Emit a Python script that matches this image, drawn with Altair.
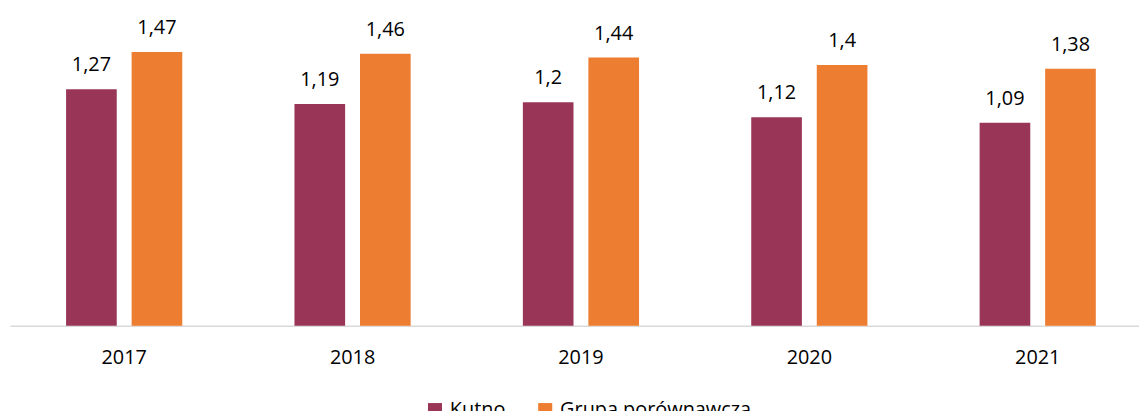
import altair as alt
import pandas as pd

years = ["2017", "2018", "2019", "2020", "2021"]
series = ["Kutno", "Grupa porównawcza"]
kutno = [1.27, 1.19, 1.20, 1.12, 1.09]
grupa = [1.47, 1.46, 1.44, 1.40, 1.38]
colors = ["#993657", "#ED7D31"]

rows = []
for i, y in enumerate(years):
    rows.append({"year": y, "series": series[0], "value": kutno[i]})
    rows.append({"year": y, "series": series[1], "value": grupa[i]})
df = pd.DataFrame(rows)

FONT = "Open Sans"

x = alt.X("year:N", sort=years, title=None,
          scale=alt.Scale(paddingInner=0, paddingOuter=0,
                          range=[alt.ExprRef(expr="0"), alt.ExprRef(expr="width + 13")]),
          axis=alt.Axis(labelAngle=0, labelFontSize=20, labelFont=FONT, labelColor="#000000",
                        labelPadding=22, ticks=False, domainColor="#D9D9D9", domainWidth=1.5))
xo = alt.XOffset("series:N", sort=series,
                 scale=alt.Scale(paddingInner=0.227, paddingOuter=0.856))
y = alt.Y("value:Q", scale=alt.Scale(domain=[0, 1.6]), axis=None)

bars = alt.Chart(df).mark_bar().encode(
    x=x, xOffset=xo, y=y,
    color=alt.Color("series:N", sort=series,
                    scale=alt.Scale(domain=series, range=colors),
                    legend=alt.Legend(title=None, orient="none", direction="horizontal",
                                      legendX=418, legendY=375, symbolType="square",
                                      symbolSize=200, symbolStrokeWidth=0, labelFontSize=20,
                                      labelFont=FONT, labelColor="#000000", columnPadding=30,
                                      symbolOffset=0, labelOffset=5, labelLimit=0)),
)

text = alt.Chart(df).transform_calculate(
    label="replace(toString(datum.value), '.', ',')"
).mark_text(fontSize=20, font=FONT, color="#000000", baseline="alphabetic", dy=-18).encode(
    x=x, xOffset=xo, y=y, text="label:N"
)

chart = alt.layer(bars, text).properties(
    width=1137, height=300,
    autosize=alt.AutoSizeParams(type="none"),
    padding={"left": 2, "top": 18.5, "right": 0, "bottom": 84},
).configure_view(stroke=None)

chart.save("out.html", embed_options={"renderer": "svg", "actions": False})
